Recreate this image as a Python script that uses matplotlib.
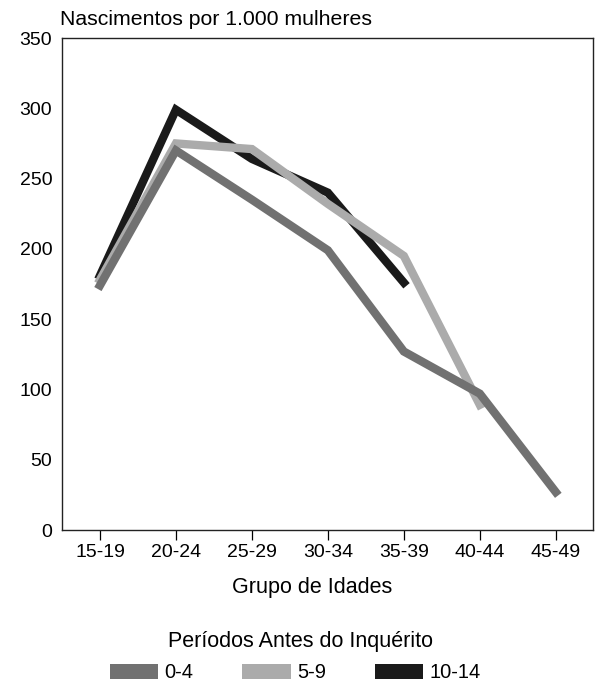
import matplotlib
matplotlib.use("Agg")
import matplotlib.pyplot as plt
from matplotlib.patches import Patch

plt.rcParams['font.family'] = ['Liberation Sans', 'DejaVu Sans']

categories = ["15-19", "20-24", "25-29", "30-34", "35-39", "40-44", "45-49"]
s_0_4 = [174, 270, 235, 199, 127, 97, 27]
s_5_9 = [178, 275, 271, 232, 195, 89]
s_10_14 = [181, 299, 264, 240, 176]
series_labels = ["0-4", "5-9", "10-14"]
colors = ["#717171", "#ababab", "#1a1a1a"]
y_ticks = [0, 50, 100, 150, 200, 250, 300, 350]

fig = plt.figure(figsize=(6.0, 6.86), dpi=100)
ax = fig.add_axes([0.1033, 0.2274, 0.885, 0.7172])

x = list(range(len(categories)))
ax.plot(x[:len(s_10_14)], s_10_14, color=colors[2], lw=6, solid_joinstyle='miter', zorder=2)
ax.plot(x[:len(s_5_9)], s_5_9, color=colors[1], lw=6, solid_joinstyle='miter', zorder=3)
ax.plot(x[:len(s_0_4)], s_0_4, color=colors[0], lw=6, solid_joinstyle='miter', zorder=4)

ax.set_xlim(-0.5, 6.49)
ax.set_ylim(0, 350)
ax.set_xticks(x)
ax.set_xticklabels(categories, fontsize=14)
ax.set_yticks(y_ticks)
ax.set_yticklabels([str(v) for v in y_ticks], fontsize=14)
ax.tick_params(axis='x', length=7, width=0.9, direction='out', pad=3)
ax.tick_params(axis='y', length=0, pad=7)
for sp in ax.spines.values():
    sp.set_linewidth(1.0)
    sp.set_color('#222222')

fig.text(312 / 600, 1 - 588 / 686, "Grupo de Idades", fontsize=15.5, ha='center', va='center')
fig.text(0.100, 0.971, "Nascimentos por 1.000 mulheres", fontsize=15.3, ha='left', va='center')

fig.text(0.5, 1 - 641 / 686, "Períodos Antes do Inquérito", fontsize=15.5, ha='center', va='center')
handles = [Patch(facecolor=c, edgecolor='none') for c in colors]
fig.legend(handles, series_labels, loc='center', bbox_to_anchor=(0.492, 1 - 673 / 686), ncol=3,
           frameon=False, fontsize=14.5, handlelength=2.4, handleheight=0.7,
           handletextpad=0.3, columnspacing=2.45, borderpad=0, borderaxespad=0)

fig.savefig("out.png", dpi=100)
